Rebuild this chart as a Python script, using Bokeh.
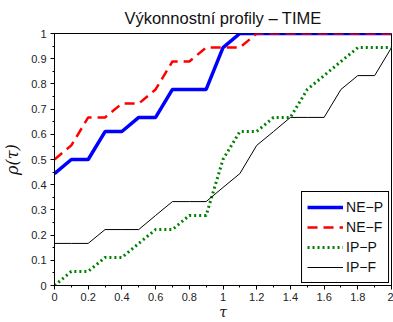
from bokeh.plotting import figure
from bokeh.models import FixedTicker, Legend, LegendItem
from bokeh.embed import file_html
from bokeh.resources import INLINE

tau = [0.0, 0.1, 0.2, 0.3, 0.4, 0.5, 0.6, 0.7, 0.8, 0.9, 1.0,
       1.1, 1.2, 1.3, 1.4, 1.5, 1.6, 1.7, 1.8, 1.9, 2.0]
ne_p = [0.444, 0.5, 0.5, 0.611, 0.611, 0.667, 0.667, 0.778, 0.778, 0.778, 0.944,
        1.0, 1.0, 1.0, 1.0, 1.0, 1.0, 1.0, 1.0, 1.0, 1.0]
ne_f = [0.5, 0.556, 0.667, 0.667, 0.722, 0.722, 0.778, 0.889, 0.889, 0.944, 0.944,
        0.944, 1.0, 1.0, 1.0, 1.0, 1.0, 1.0, 1.0, 1.0, 1.0]
ip_p = [0.0, 0.056, 0.056, 0.111, 0.111, 0.167, 0.222, 0.222, 0.278, 0.278, 0.5,
        0.611, 0.611, 0.667, 0.667, 0.778, 0.833, 0.889, 0.944, 0.944, 0.944]
ip_f = [0.167, 0.167, 0.167, 0.222, 0.222, 0.222, 0.278, 0.333, 0.333, 0.333, 0.389,
        0.444, 0.556, 0.611, 0.667, 0.667, 0.667, 0.778, 0.833, 0.833, 0.944]

x_ticks = [0, 0.2, 0.4, 0.6, 0.8, 1, 1.2, 1.4, 1.6, 1.8, 2]
x_tick_labels = ["0", "0.2", "0.4", "0.6", "0.8", "1", "1.2", "1.4", "1.6", "1.8", "2"]
y_ticks = [0, 0.1, 0.2, 0.3, 0.4, 0.5, 0.6, 0.7, 0.8, 0.9, 1]
y_tick_labels = ["0", "0.1", "0.2", "0.3", "0.4", "0.5", "0.6", "0.7", "0.8", "0.9", "1"]

p = figure(width=393, height=322, output_backend="svg", toolbar_location=None,
           x_range=(0, 2), y_range=(0, 1),
           min_border_left=54, min_border_right=2, min_border_top=33, min_border_bottom=33)

p.title.text = "Výkonnostní profily – TIME"
p.title.align = "center"
p.title.vertical_align = "top"
p.title.text_font = "Liberation Sans"
p.title.text_font_size = "16.5px"
p.title.text_font_style = "normal"
p.title.text_color = "#111111"
p.title.text_line_height = 0.9
p.title.standoff = 10

p.grid.visible = False
p.outline_line_color = "black"
p.outline_line_width = 1
p.outline_line_alpha = 1

for ax in (p.xaxis[0], p.yaxis[0]):
    ax.major_label_text_font = "Liberation Sans"
    ax.major_label_text_font_size = "11px"
    ax.major_label_text_color = "#222222"
    ax.major_tick_in = 0
    ax.major_tick_out = 4
    ax.minor_tick_in = 0
    ax.minor_tick_out = 2
    ax.axis_line_color = "black"
    ax.major_tick_line_color = "black"
    ax.minor_tick_line_color = "black"
    ax.axis_label_text_font = "DejaVu Serif"
    ax.axis_label_text_font_style = "italic"
    ax.axis_label_text_color = "#111111"

p.xaxis.axis_label_text_font_size = "14px"
p.yaxis.axis_label_text_font_size = "16px"

p.xaxis.ticker = FixedTicker(ticks=x_ticks, minor_ticks=[i / 10 for i in range(21)])
p.xaxis.major_label_overrides = dict(zip(x_ticks, x_tick_labels))
p.yaxis.ticker = FixedTicker(ticks=y_ticks, minor_ticks=[i / 20 for i in range(21)])
p.yaxis.major_label_overrides = dict(zip(y_ticks, y_tick_labels))
p.xaxis.axis_label = "τ"
p.yaxis.axis_label = "ρ(τ)"
p.xaxis.major_label_standoff = 3
p.xaxis.axis_label_standoff = 0
p.yaxis.major_label_standoff = 4
p.yaxis.axis_label_standoff = 6

r1 = p.line(tau, ne_p, line_color="#0000ff", line_width=3.5)
r2 = p.line(tau, ne_f, line_color="#ff0000", line_width=2.5, line_dash="10 6")
r3 = p.line(tau, ip_p, line_color="#008000", line_width=3, line_dash="2 3")
r4 = p.line(tau, ip_f, line_color="black", line_width=1)

legend = Legend(items=[LegendItem(label="NE−P", renderers=[r1]),
                       LegendItem(label="NE−F", renderers=[r2]),
                       LegendItem(label="IP−P", renderers=[r3]),
                       LegendItem(label="IP−F", renderers=[r4])],
                location="bottom_right")
legend.label_text_font = "Liberation Sans"
legend.label_text_font_size = "14px"
legend.label_text_color = "#111111"
legend.border_line_color = "black"
legend.border_line_width = 1
legend.border_line_alpha = 1
legend.background_fill_alpha = 1
legend.glyph_width = 36
legend.glyph_height = 20
legend.label_height = 20
legend.label_standoff = 3
legend.spacing = 0
legend.padding = 5
legend.margin = 2
p.add_layout(legend)

open("out.html", "w").write(file_html(p, INLINE))
